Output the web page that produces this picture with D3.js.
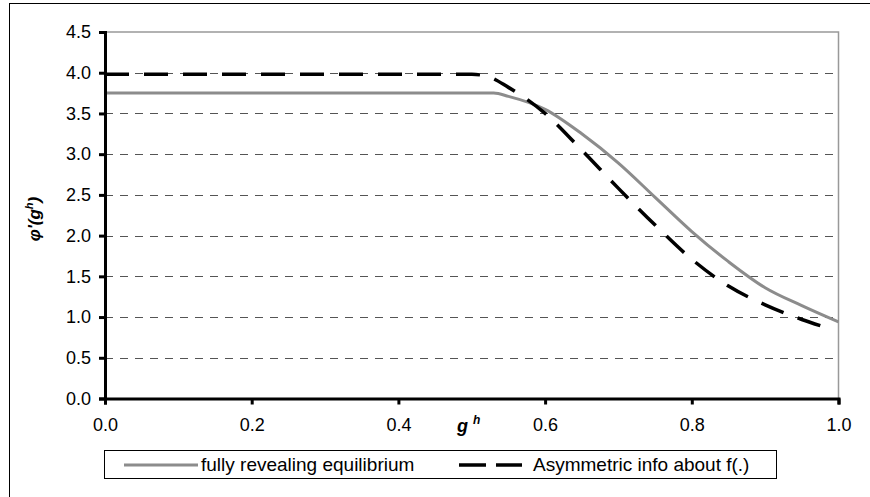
<!DOCTYPE html>
<html>
  <head>
    <meta charset="utf-8" />
    <title>phi'(g^h) chart</title>
    <style>
      body { margin: 0; background: #fff; }
      svg text { font-family: Arial, "Liberation Sans", sans-serif; fill: #000; }
    </style>
  </head>
  <body>
    <svg width="870" height="497"></svg>

    <script type="text/javascript" src="https://d3js.org/d3.v7.min.js"></script>
    <script>
      // data
      const xTicks = [0, 0.2, 0.4, 0.6, 0.8, 1.0];
      const yTicks = [0, 0.5, 1.0, 1.5, 2.0, 2.5, 3.0, 3.5, 4.0, 4.5];

      const gFull = [0, 0.1, 0.2, 0.3, 0.4, 0.5, 0.53, 0.55, 0.6, 0.65, 0.7, 0.75, 0.8, 0.85, 0.9, 0.95, 1.0];
      const phiFull = [3.75, 3.75, 3.75, 3.75, 3.75, 3.75, 3.75, 3.71, 3.55, 3.25, 2.89, 2.47, 2.05, 1.68, 1.36, 1.14, 0.94];

      const gAsym = [0, 0.1, 0.2, 0.3, 0.4, 0.5, 0.52, 0.55, 0.6, 0.65, 0.7, 0.75, 0.8, 0.85, 0.9, 0.95, 0.98];
      const phiAsym = [3.98, 3.98, 3.98, 3.98, 3.98, 3.98, 3.96, 3.82, 3.5, 3.05, 2.58, 2.13, 1.71, 1.38, 1.15, 0.97, 0.88];

      const seriesNames = ["fully revealing equilibrium", "Asymmetric info about f(.)"];

      const svg = d3.select("svg");
      const plot = { left: 105, right: 838.5, top: 32, bottom: 398.5 };

      const x = d3.scaleLinear().domain([0, 1]).range([plot.left, plot.right]);
      const y = d3.scaleLinear().domain([0, 4.5]).range([plot.bottom, plot.top]);

      // outer frame (runs off the right/bottom of the picture)
      svg.append("rect")
        .attr("x", 9.5).attr("y", 3.5)
        .attr("width", 900).attr("height", 600)
        .attr("fill", "none").attr("stroke", "#000").attr("stroke-width", 1);

      // dashed gridlines
      svg.append("g")
        .selectAll("line")
        .data(yTicks.filter(d => d > 0 && d < 4.5))
        .join("line")
        .attr("x1", plot.left).attr("x2", plot.right)
        .attr("y1", d => Math.round(y(d)) + 0.5).attr("y2", d => Math.round(y(d)) + 0.5)
        .attr("stroke", "#555").attr("stroke-width", 1)
        .attr("stroke-dasharray", "8,7");

      // plot area border top + right
      svg.append("path")
        .attr("d", `M${plot.left},${plot.top}H${plot.right}V${plot.bottom}`)
        .attr("fill", "none").attr("stroke", "#999").attr("stroke-width", 1.5);

      // series
      const line = d3.line()
        .x(d => x(d[0]))
        .y(d => y(d[1]))
        .curve(d3.curveMonotoneX);

      svg.append("path")
        .datum(d3.zip(gFull, phiFull))
        .attr("d", line)
        .attr("fill", "none").attr("stroke", "#8c8c8c").attr("stroke-width", 3);

      svg.append("path")
        .datum(d3.zip(gAsym, phiAsym))
        .attr("d", line)
        .attr("fill", "none").attr("stroke", "#000").attr("stroke-width", 3.5)
        .attr("stroke-dasharray", "24,15");

      // axes
      const xAxis = svg.append("g")
        .attr("transform", `translate(0,${plot.bottom})`)
        .call(d3.axisBottom(x).tickValues(xTicks).tickFormat(d3.format(".1f")).tickSizeOuter(0).tickSize(6).tickPadding(14));
      const yAxis = svg.append("g")
        .attr("transform", `translate(${plot.left},0)`)
        .call(d3.axisLeft(y).tickValues(yTicks).tickFormat(d3.format(".1f")).tickSizeOuter(0).tickSize(6).tickPadding(8));

      [xAxis, yAxis].forEach(a => {
        a.select(".domain").attr("stroke", "#000").attr("stroke-width", 3);
        a.selectAll(".tick line").attr("stroke", "#000").attr("stroke-width", 3);
        a.selectAll(".tick text").attr("font-size", 18).attr("font-family", "Arial, 'Liberation Sans', sans-serif");
      });

      // axis titles
      const xt = svg.append("text")
        .attr("x", 457).attr("y", 432)
        .attr("font-size", 18).attr("font-weight", "bold").attr("font-style", "italic");
      xt.append("tspan").text("g");
      xt.append("tspan").attr("dx", 5).attr("dy", -8).attr("font-size", 12).text("h");

      const yt = svg.append("text")
        .attr("transform", "translate(40,219) rotate(-90)")
        .attr("text-anchor", "middle")
        .attr("font-size", 17).attr("font-weight", "bold").attr("font-style", "italic");
      yt.append("tspan").text("\u03C6'(g");
      yt.append("tspan").attr("dy", -7).attr("font-size", 11).text("h");
      yt.append("tspan").attr("dy", 7).text(")");

      // legend
      const legend = svg.append("g");
      legend.append("rect")
        .attr("x", 104.5).attr("y", 450.5).attr("width", 672).attr("height", 28)
        .attr("fill", "#fff").attr("stroke", "#000").attr("stroke-width", 1);

      legend.append("line")
        .attr("x1", 124).attr("x2", 198).attr("y1", 465).attr("y2", 465)
        .attr("stroke", "#8c8c8c").attr("stroke-width", 3);
      legend.append("text")
        .attr("x", 201).attr("y", 471).attr("font-size", 19)
        .text(seriesNames[0]);

      legend.append("line")
        .attr("x1", 459).attr("x2", 522).attr("y1", 465).attr("y2", 465)
        .attr("stroke", "#000").attr("stroke-width", 3.5)
        .attr("stroke-dasharray", "27,10");
      legend.append("text")
        .attr("x", 533).attr("y", 471).attr("font-size", 19)
        .text(seriesNames[1]);
    </script>
  </body>
</html>
